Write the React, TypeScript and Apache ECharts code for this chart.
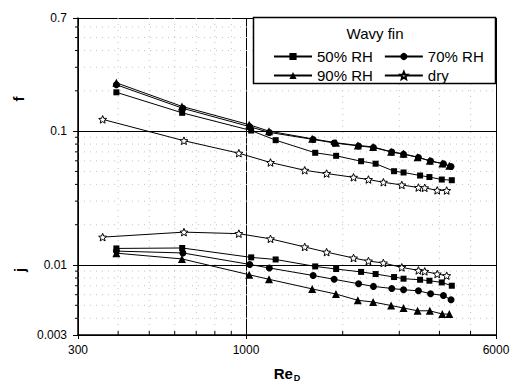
import React, { useEffect, useRef } from 'react';
import * as echarts from 'echarts';

// ---- axes ----
const xTicks = [300, 1000, 6000];
const xTickLabels = ['300', '1000', '6000'];
const yTicks = [0.003, 0.01, 0.1, 0.7];
const yTickLabels = ['0.003', '0.01', '0.1', '0.7'];
const xMinor = [400, 500, 600, 700, 800, 900, 2000, 3000, 4000, 5000];
const yMinor = [0.004, 0.005, 0.006, 0.007, 0.008, 0.009, 0.02, 0.03, 0.04, 0.05, 0.06, 0.07, 0.08, 0.09, 0.2, 0.3, 0.4, 0.5, 0.6];

// ---- series ----
const seriesNames = ['50% RH', '70% RH', '90% RH', 'dry'];

const re50 = [395, 633, 1038, 1237, 1642, 1908, 2282, 2532, 2890, 3093, 3482, 3723, 4068, 4371];
const f50 = [0.195, 0.137, 0.101, 0.0856, 0.0689, 0.0654, 0.0596, 0.0571, 0.0502, 0.0491, 0.0466, 0.0454, 0.0435, 0.043];
const j50 = [0.0133, 0.0134, 0.0114, 0.011, 0.00976, 0.00933, 0.00888, 0.00856, 0.00813, 0.0079, 0.00776, 0.00763, 0.00741, 0.007];

const re70 = [395, 636, 1027, 1182, 1618, 1881, 2241, 2493, 2843, 3093, 3441, 3754, 4116, 4347];
const f70 = [0.222, 0.148, 0.108, 0.0978, 0.0867, 0.0816, 0.0775, 0.0755, 0.0697, 0.0673, 0.0636, 0.0598, 0.057, 0.0544];
const j70 = [0.0127, 0.0123, 0.0101, 0.0095, 0.00835, 0.00782, 0.00724, 0.00692, 0.00668, 0.00653, 0.00642, 0.0061, 0.00592, 0.0055];

const re90 = [395, 632, 1023, 1179, 1607, 1905, 2229, 2487, 2829, 3093, 3420, 3733, 4083, 4293];
const f90 = [0.2295, 0.153, 0.1117, 0.1, 0.0877, 0.0819, 0.0782, 0.0762, 0.0701, 0.0677, 0.0639, 0.06, 0.0573, 0.0551];
const j90 = [0.01226, 0.0111, 0.00846, 0.00782, 0.00663, 0.00607, 0.00545, 0.00529, 0.00498, 0.00477, 0.00455, 0.00455, 0.0043, 0.0043];

const reDry = [358, 641, 950, 1192, 1523, 1782, 2161, 2405, 2677, 3054, 3441, 3600, 3938, 4213];
const fDry = [0.1224, 0.0848, 0.0684, 0.0583, 0.051, 0.0482, 0.0452, 0.0435, 0.0415, 0.0396, 0.0379, 0.0377, 0.0361, 0.036];
const jDry = [0.01615, 0.0176, 0.01715, 0.01568, 0.01364, 0.01247, 0.01128, 0.01071, 0.01035, 0.0096, 0.00911, 0.00896, 0.00856, 0.00832];

const STAR = 'path://M10,0 L12.6,6.4 L19.51,6.91 L14.2,11.4 L15.88,18.09 L10,14.4 L4.12,18.09 L5.8,11.4 L0.49,6.91 L7.4,6.4 Z';
const FONT = 'Arial, "Liberation Sans", Helvetica, sans-serif';

function lineSeries(name: string, xs: number[], ys: number[], symbol: string, size: number, hollow: boolean) {
  return {
    type: 'line',
    name,
    data: xs.map((v, i) => [v, ys[i]]),
    symbol,
    symbolSize: size,
    symbolKeepAspect: true,
    showSymbol: true,
    lineStyle: { color: '#000', width: 1 },
    itemStyle: hollow ? { color: '#fff', borderColor: '#000', borderWidth: 1 } : { color: '#000', borderWidth: 0 },
    emphasis: { disabled: true },
    z: 3,
  };
}

function labelFor(ticks: number[], labels: string[]) {
  return (v: number) => {
    for (let i = 0; i < ticks.length; i++) {
      if (Math.abs(Math.log10(v) - Math.log10(ticks[i])) < 1e-6) return labels[i];
    }
    return '';
  };
}

export default function App() {
  const ref = useRef<HTMLDivElement>(null);
  useEffect(() => {
    if (!ref.current) return;
    const chart = echarts.init(ref.current, null, { renderer: 'svg' });
    const yMin = yTicks[0];
    const xMin = xTicks[0];
    const option: any = {
      animation: false,
      backgroundColor: '#fff',
      grid: { left: 78, right: 20, top: 18, bottom: 52, containLabel: false, outerBoundsMode: 'none' },
      xAxis: {
        type: 'log',
        logBase: 10,
        min: xTicks[0],
        max: xTicks[xTicks.length - 1],
        name: '{a|Re}{b|D}',
        nameLocation: 'middle',
        nameGap: 30,
        nameTextStyle: {
          rich: {
            a: { fontSize: 15, fontWeight: 'bold', fontFamily: FONT, color: '#000' },
            b: { fontSize: 9, fontWeight: 'bold', fontFamily: FONT, color: '#000', padding: [8, 0, 0, 1] },
          },
        },
        axisLine: { show: true, onZero: false, lineStyle: { color: '#000', width: 1.5 } },
        axisTick: { show: true, inside: false, length: 4, lineStyle: { color: '#000', width: 1 } },
        minorTick: { show: false },
        axisLabel: {
          show: true,
          formatter: labelFor(xTicks, xTickLabels),
          fontSize: 12,
          fontFamily: FONT,
          color: '#000',
          margin: 9,
          showMinLabel: true,
          showMaxLabel: true,
        },
        splitLine: { show: true, lineStyle: { color: '#000', width: 1 } },
      },
      yAxis: {
        type: 'log',
        logBase: 10,
        min: yTicks[0],
        max: yTicks[yTicks.length - 1],
        axisLine: { show: true, onZero: false, lineStyle: { color: '#000', width: 1.5 } },
        axisTick: { show: true, inside: false, length: 5, lineStyle: { color: '#000', width: 1 } },
        minorTick: { show: false },
        axisLabel: {
          show: true,
          formatter: labelFor(yTicks, yTickLabels),
          fontSize: 12,
          fontFamily: FONT,
          color: '#000',
          margin: 11,
          showMinLabel: true,
          showMaxLabel: true,
        },
        splitLine: { show: true, lineStyle: { color: '#000', width: 1 } },
      },
      legend: [
        {
          data: [seriesNames[0], seriesNames[1]],
          left: 268,
          top: 44,
          itemWidth: 38,
          itemHeight: 9,
          itemGap: 11,
          selectedMode: false,
          textStyle: { fontSize: 15, fontFamily: FONT, color: '#000' },
          z: 20,
        },
        {
          data: [seriesNames[2], seriesNames[3]],
          left: 268,
          top: 63,
          itemWidth: 38,
          itemHeight: 9,
          itemGap: 11,
          selectedMode: false,
          textStyle: { fontSize: 15, fontFamily: FONT, color: '#000' },
          z: 20,
        },
      ],
      graphic: [
        {
          type: 'rect',
          z: 15,
          shape: { x: 253.5, y: 17.5, width: 242, height: 66 },
          style: { fill: '#fff', stroke: '#000', lineWidth: 1.5 },
        },
        {
          type: 'text',
          z: 16,
          x: 375,
          y: 33,
          style: { text: 'Wavy fin', fontSize: 15, fontFamily: FONT, fill: '#000', textAlign: 'center', textVerticalAlign: 'middle' },
        },
        {
          type: 'text',
          z: 16,
          x: 18,
          y: 99,
          rotation: Math.PI / 2,
          style: { text: 'f', fontSize: 15, fontWeight: 'bold', fontFamily: FONT, fill: '#000', textAlign: 'center', textVerticalAlign: 'middle' },
        },
        {
          type: 'text',
          z: 16,
          x: 19,
          y: 270,
          rotation: Math.PI / 2,
          style: { text: 'j', fontSize: 15, fontWeight: 'bold', fontFamily: FONT, fill: '#000', textAlign: 'center', textVerticalAlign: 'middle' },
        },
      ],
      series: [
        {
          type: 'custom',
          silent: true,
          z: 1,
          clip: false,
          data: xMinor.map((v) => [v, yMin]),
          renderItem: (params: any, api: any) => {
            const p = api.coord([api.value(0), yMin]);
            const cs = params.coordSys;
            return {
              type: 'group',
              children: [
                { type: 'line', shape: { x1: p[0], y1: cs.y, x2: p[0], y2: cs.y + cs.height }, style: { stroke: '#c4c4c4', lineWidth: 1, lineDash: [1, 5] } },
                { type: 'line', shape: { x1: p[0], y1: cs.y + cs.height, x2: p[0], y2: cs.y + cs.height - 4 }, style: { stroke: '#000', lineWidth: 1 } },
              ],
            };
          },
        },
        {
          type: 'custom',
          silent: true,
          z: 1,
          clip: false,
          data: yMinor.map((v) => [xMin, v]),
          renderItem: (params: any, api: any) => {
            const p = api.coord([xMin, api.value(1)]);
            const cs = params.coordSys;
            return {
              type: 'group',
              children: [
                { type: 'line', shape: { x1: cs.x, y1: p[1], x2: cs.x + cs.width, y2: p[1] }, style: { stroke: '#c4c4c4', lineWidth: 1, lineDash: [1, 5] } },
                { type: 'line', shape: { x1: cs.x - 3, y1: p[1], x2: cs.x + 1, y2: p[1] }, style: { stroke: '#000', lineWidth: 1 } },
              ],
            };
          },
        },
        lineSeries(seriesNames[0], re50, f50, 'rect', 6, false),
        lineSeries(seriesNames[0], re50, j50, 'rect', 6, false),
        lineSeries(seriesNames[1], re70, f70, 'circle', 7, false),
        lineSeries(seriesNames[1], re70, j70, 'circle', 7, false),
        lineSeries(seriesNames[2], re90, f90, 'triangle', 8, false),
        lineSeries(seriesNames[2], re90, j90, 'triangle', 8, false),
        lineSeries(seriesNames[3], reDry, fDry, STAR, 8, true),
        lineSeries(seriesNames[3], reDry, jDry, STAR, 8, true),
      ],
    };
    chart.setOption(option);
    return () => chart.dispose();
  }, []);
  return <div ref={ref} style={{ position: 'absolute', left: 0, top: 0, width: 516, height: 387 }} />;
}
